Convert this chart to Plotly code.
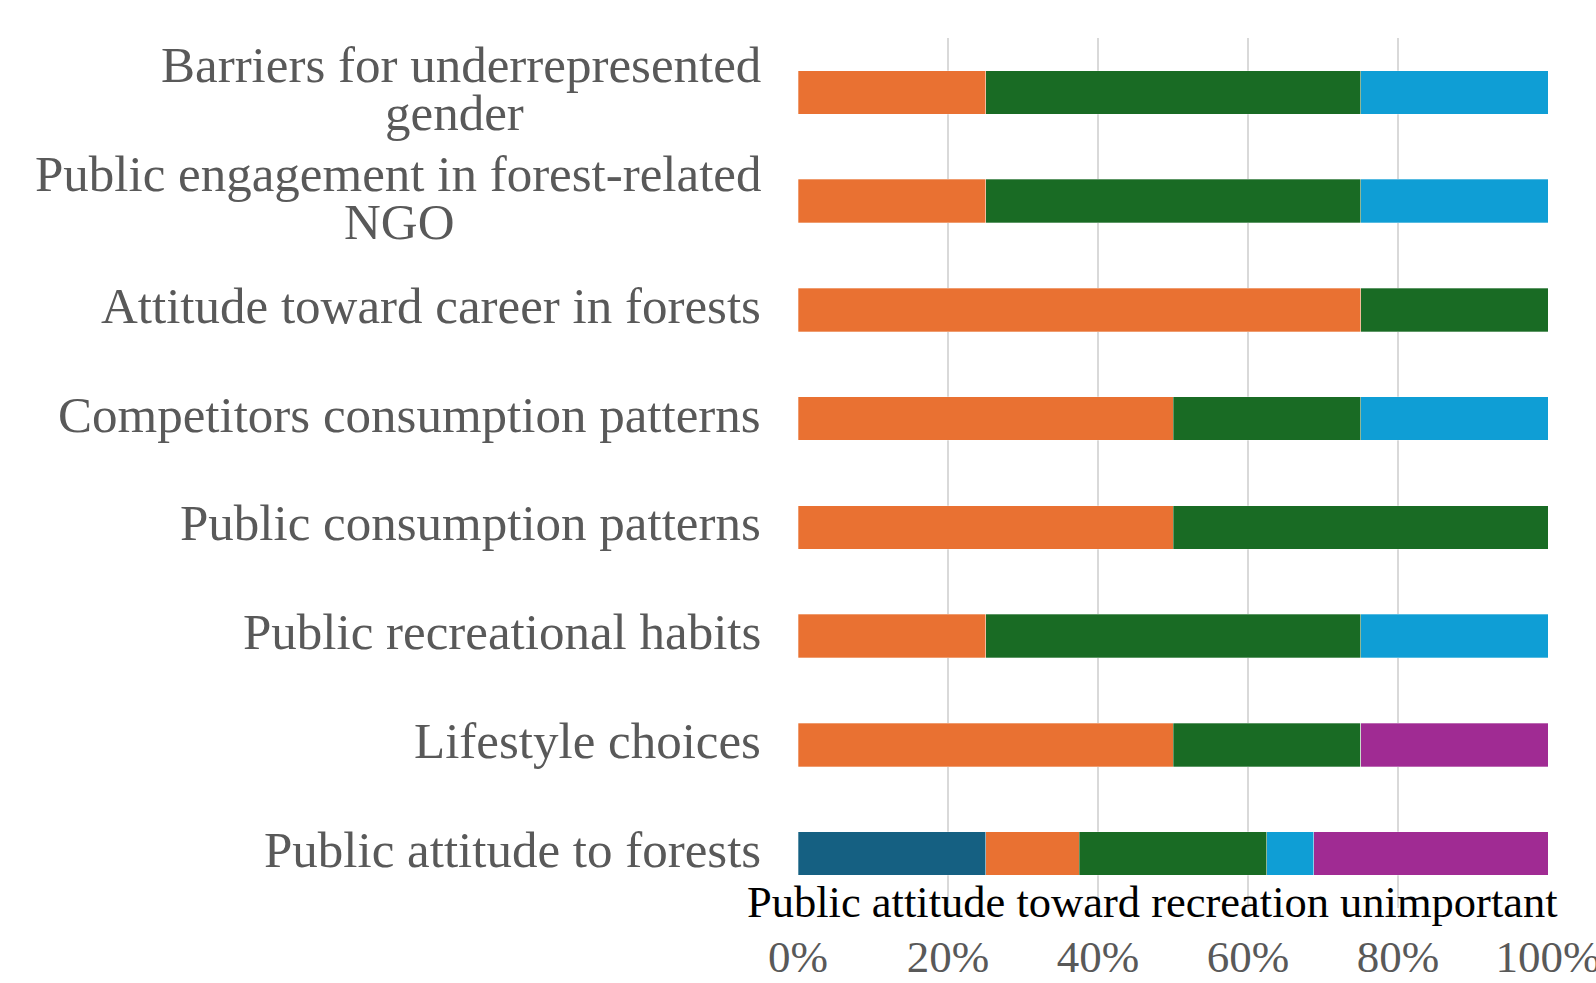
import plotly.graph_objects as go

# Categories, bottom to top
categories = [
    "Public attitude to forests",
    "Lifestyle choices",
    "Public recreational habits",
    "Public consumption patterns",
    "Competitors consumption patterns",
    "Attitude toward career in forests",
    "Public engagement in forest-related<br>NGO",
    "Barriers for underrepresented<br>gender",
]
series_names = ["Series 1", "Series 2", "Series 3", "Series 4", "Series 5"]
s1 = [25, 0, 0, 0, 0, 0, 0, 0]
s2 = [12.5, 50, 25, 50, 50, 75, 25, 25]
s3 = [25, 25, 50, 50, 25, 25, 50, 50]
s4 = [6.25, 0, 25, 0, 25, 0, 25, 25]
s5 = [31.25, 25, 0, 0, 0, 0, 0, 0]
colors = ["#156082", "#E97132", "#196B24", "#0F9ED5", "#A02B93"]
tick_vals = [0, 20, 40, 60, 80, 100]
tick_text = ["0%", "20%", "40%", "60%", "80%", "100%"]
axis_title = "Public attitude toward recreation unimportant"

FONT = "Liberation Serif"
GRAY = "#595959"
LABEL_SIZE = 51
# horizontal centre offsets (px from plot left) of the wrapped second lines
second_line_center = {6: -399, 7: -344}

fig = go.Figure()
ypos = list(range(len(categories)))
for name, vals, col in zip(series_names, [s1, s2, s3, s4, s5], colors):
    fig.add_trace(go.Bar(
        y=ypos, x=vals, name=name, orientation="h",
        marker=dict(color=col, line=dict(color="rgba(255,255,255,0.6)", width=0.5)),
        width=0.4, hoverinfo="x+name",
    ))

annotations = []
for i, cat in enumerate(categories):
    lines = cat.split("<br>")
    base = dict(x=0, xref="paper", y=i, yref="y", showarrow=False,
                yanchor="middle", font=dict(family=FONT, size=LABEL_SIZE, color=GRAY))
    if len(lines) == 1:
        annotations.append(dict(base, text=lines[0], xanchor="right", xshift=-35, yshift=4))
    else:
        l1, l2 = lines
        annotations.append(dict(base, text=l1, xanchor="right", xshift=-35, yshift=27))
        annotations.append(dict(base, text=l2, xanchor="center",
                                xshift=second_line_center[i], yshift=-21))

annotations.append(dict(
    x=0.5, xref="paper", y=0, yref="paper", xshift=-21, yshift=6, text=axis_title,
    showarrow=False, xanchor="center", yanchor="middle",
    font=dict(family=FONT, size=44.5, color="black"),
))

fig.update_layout(
    width=1596, height=983,
    margin=dict(l=798, r=48, t=38, b=75),
    barmode="stack",
    showlegend=False,
    plot_bgcolor="white", paper_bgcolor="white",
    xaxis=dict(range=[0, 100], tickvals=tick_vals, ticktext=tick_text,
               showgrid=True, gridcolor="#d9d9d9", gridwidth=1.5,
               zeroline=False, showline=False, ticks="", automargin=False,
               tickfont=dict(family=FONT, size=45, color=GRAY),
               ticklabelstandoff=18, ticklabeloverflow="allow"),
    yaxis=dict(range=[-0.5, 7.5], showticklabels=False, showgrid=False,
               zeroline=False, showline=False, automargin=False),
    annotations=annotations,
)
fig.write_html("out.html", config={"displayModeBar": False},
               post_script="document.body.style.margin='0';")
